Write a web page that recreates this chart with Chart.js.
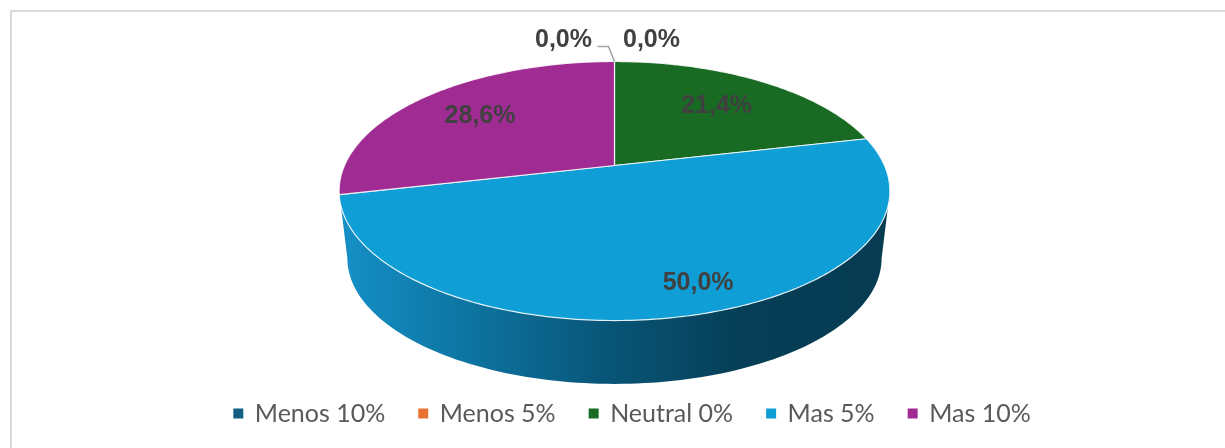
<!DOCTYPE html>
<html><head><meta charset="utf-8">
<script src="https://cdn.jsdelivr.net/npm/chart.js@4/dist/chart.umd.js"></script>
<style>
html,body{margin:0;padding:0;background:#fff;overflow:hidden}
#frame{position:absolute;left:10px;top:10px;width:1215px;height:438px;border-left:2px solid #d9d9d9;border-top:2px solid #d9d9d9}
#wrap{position:absolute;left:0;top:0;width:1225px;height:448px}
</style></head><body>
<div id="frame"></div>
<div id="wrap"><canvas id="c" width="1225" height="448"></canvas></div>
<script>
const categories = ['Menos 10%','Menos 5%','Neutral 0%','Mas 5%','Mas 10%'];
const values = [0,0,21.4,50,28.6];
const tickLabels = ['0,0%','0,0%','21,4%','50,0%','28,6%'];
const colors = ['#156082','#E97132','#196B24','#0F9ED5','#A02B93'];
const labelOffsets = [[-51,-21],[37,-21],[0,0],[16,-18],[-2,-1]];
const labelReach = [0,0,0.67,0.92,0.68];
const view = {cx:614.5, cy:165.5, bx:270, ay:124.5, k:0.197, drop:68, shrink:0.97};

function project(ux, uy, scale, dy){
  const d = 1 - view.k*uy, s = scale||1;
  return [view.cx + s*view.bx*ux/d, view.cy + (dy||0) + s*view.ay*uy/d];
}
Chart.ArcElement.prototype.draw = function(ctx){
  const a0 = this.startAngle, a1 = this.endAngle;
  if (a1 - a0 < 1e-6) return;
  ctx.save();
  ctx.beginPath();
  ctx.moveTo(view.cx, view.cy);
  const n = Math.max(8, Math.ceil((a1-a0)*60));
  for (let i=0;i<=n;i++){
    const a = a0 + (a1-a0)*i/n;
    const p = project(Math.cos(a), Math.sin(a));
    ctx.lineTo(p[0], p[1]);
  }
  ctx.closePath();
  ctx.fillStyle = this.options.backgroundColor;
  ctx.fill();
  ctx.lineWidth = 1.2;
  ctx.lineJoin = 'round';
  ctx.strokeStyle = 'rgba(255,255,255,0.85)';
  ctx.stroke();
  ctx.restore();
};
const wall = {
  id:'wall',
  beforeDatasetsDraw(chart){
    const ctx = chart.ctx;
    const t0 = Math.asin(view.k), t1 = Math.PI - t0, n = 120;
    ctx.save();
    ctx.beginPath();
    for (let i=0;i<=n;i++){
      const a = t0 + (t1-t0)*i/n, p = project(Math.cos(a), Math.sin(a));
      i ? ctx.lineTo(p[0],p[1]) : ctx.moveTo(p[0],p[1]);
    }
    for (let i=n;i>=0;i--){
      const a = t0 + (t1-t0)*i/n, p = project(Math.cos(a), Math.sin(a), view.shrink, view.drop);
      ctx.lineTo(p[0],p[1]);
    }
    ctx.closePath();
    const g = ctx.createLinearGradient(340,0,890,0);
    g.addColorStop(0,'#1590c6');
    g.addColorStop(0.16,'#0f7dad');
    g.addColorStop(0.48,'#085678');
    g.addColorStop(0.72,'#063f58');
    g.addColorStop(1,'#073c52');
    ctx.fillStyle = g;
    ctx.fill();
    ctx.restore();
  }
};
const labels = {
  id:'sliceLabels',
  afterDatasetsDraw(chart){
    const ctx = chart.ctx, arcs = chart.getDatasetMeta(0).data;
    ctx.save();
    ctx.strokeStyle = '#a6a6a6';
    ctx.lineWidth = 1.6;
    const top = project(0,-1);
    ctx.beginPath();
    ctx.moveTo(top[0]-17, top[1]-15);
    ctx.lineTo(top[0]-6, top[1]-15);
    ctx.lineTo(top[0], top[1]);
    ctx.stroke();
    ctx.font = 'bold 25px "Liberation Sans", Arial, sans-serif';
    ctx.fillStyle = '#404040';
    ctx.textAlign = 'center';
    ctx.textBaseline = 'middle';
    arcs.forEach((el,i)=>{
      const m = (el.startAngle+el.endAngle)/2, f = labelReach[i];
      const base = values[i]===0 ? top : project(f*Math.cos(m), f*Math.sin(m));
      ctx.fillText(tickLabels[i], base[0]+labelOffsets[i][0], base[1]+labelOffsets[i][1]);
    });
    ctx.restore();
  }
};
new Chart(document.getElementById('c'),{
  type:'pie',
  data:{labels:categories,datasets:[{data:values,backgroundColor:colors,borderWidth:0}]},
  plugins:[wall,labels],
  options:{
    responsive:false,animation:false,
    layout:{padding:{left:40,bottom:12}},
    plugins:{
      tooltip:{enabled:false},
      legend:{position:'bottom',labels:{
        boxWidth:8,boxHeight:8,padding:34,color:'#595959',
        font:{family:'Lato',size:25},
        generateLabels(chart){
          return categories.map((t,i)=>({text:t,fillStyle:colors[i],strokeStyle:colors[i],lineWidth:2,index:i,fontColor:'#595959'}));
        }
      }}
    }
  }
});
</script>
</body></html>
